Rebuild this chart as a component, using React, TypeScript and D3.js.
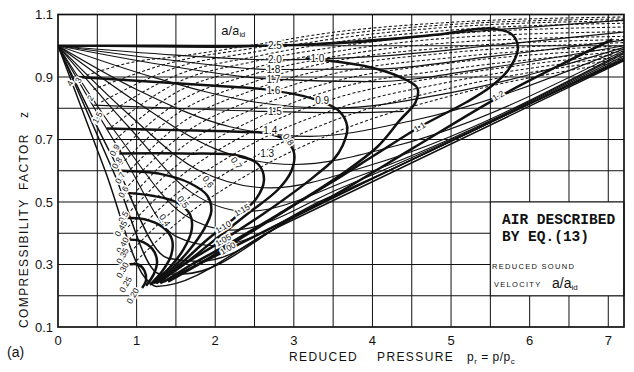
import React from 'react';
import * as d3 from 'd3';

type Pt = [number, number];

// thin solid isotherms, [p_r, z]
const isotherms: Pt[][] = [
  [[0, 1], [2, 0.995], [4, 1.02], [5.5, 1.05], [7.2, 1.082]],
  [[0, 1], [1.5, 0.97], [2.74, 0.955], [4, 0.965], [5.5, 1.0], [7.2, 1.044]],
  [[0, 1], [1.5, 0.952], [2.72, 0.924], [4, 0.925], [5.5, 0.965], [7.2, 1.018]],
  [[0, 1], [1.5, 0.932], [2.72, 0.893], [4, 0.885], [5.5, 0.93], [7.2, 1.0]],
  [[0, 1], [1.2, 0.9], [2.5, 0.82], [3.5, 0.8], [5, 0.85], [7.2, 0.995]],
  [[0, 1], [1, 0.86], [2.2, 0.74], [3.2, 0.71], [4.5, 0.76], [7.2, 0.99]],
  [[0, 1], [1, 0.82], [2, 0.67], [3, 0.62], [4.3, 0.68], [7.2, 0.985]],
  [[0, 1], [0.9, 0.78], [1.8, 0.6], [2.7, 0.545], [4, 0.62], [7.2, 0.98]],
  [[0, 1], [0.9, 0.74], [1.7, 0.53], [2.4, 0.47], [3.8, 0.58], [7.2, 0.975]],
  [[0, 1], [0.8, 0.7], [1.6, 0.46], [2.2, 0.41], [3.6, 0.545], [7.2, 0.968]],
  [[0, 1], [0.8, 0.66], [1.5, 0.39], [2, 0.36], [3.4, 0.51], [7.2, 0.962]],
  [[0, 1], [0.7, 0.64], [1.4, 0.32], [1.8, 0.31], [3.2, 0.48], [7.2, 0.958]],
  [[0, 1], [0.7, 0.6], [1.3, 0.27], [1.6, 0.27], [3, 0.45], [7.2, 0.955]],
  [[0, 1], [0.6, 0.6], [1.1, 0.26], [1.25, 0.23], [2.8, 0.42], [7.2, 0.952]],
];

// dashed family, starting on the left locus
const dashedLines: Pt[][] = [
  [[0.3, 0.9], [1.0, 0.95], [1.5, 0.965], [2.5, 1.003], [3.5, 1.043], [5, 1.075], [7.2, 1.092]],
  [[0.45, 0.86], [1.5, 0.95], [2.5, 0.993], [3.5, 1.033], [5, 1.068], [7.2, 1.086]],
  [[0.55, 0.82], [1.5, 0.93], [2.5, 0.98], [3.5, 1.022], [5, 1.06], [7.2, 1.08]],
  [[0.62, 0.78], [1.5, 0.905], [2.5, 0.965], [3.5, 1.01], [5, 1.05], [7.2, 1.072]],
  [[0.68, 0.74], [1.5, 0.88], [2.5, 0.95], [3.5, 0.995], [5, 1.038], [7.2, 1.06]],
  [[0.73, 0.7], [1.5, 0.85], [2.5, 0.93], [3.5, 0.98], [5, 1.025], [7.2, 1.045]],
  [[0.77, 0.66], [1.5, 0.815], [2.5, 0.91], [3.5, 0.965], [5, 1.01], [7.2, 1.03]],
  [[0.8, 0.62], [1.5, 0.78], [2.5, 0.885], [3.5, 0.95], [5, 0.995], [7.2, 1.02]],
  [[0.83, 0.58], [1.5, 0.74], [2.5, 0.86], [3.5, 0.93], [5, 0.978], [7.2, 1.01]],
  [[0.85, 0.54], [1.5, 0.7], [2.5, 0.83], [3.5, 0.91], [5, 0.962], [7.2, 1.0]],
  [[0.87, 0.5], [1.5, 0.66], [2.5, 0.8], [3.5, 0.885], [5, 0.945], [7.2, 0.99]],
  [[0.88, 0.46], [1.5, 0.615], [2.5, 0.765], [3.5, 0.86], [5, 0.925], [7.2, 0.982]],
  [[0.89, 0.42], [1.5, 0.57], [2.5, 0.73], [3.5, 0.83], [5, 0.905], [7.2, 0.974]],
  [[0.9, 0.38], [1.5, 0.525], [2.5, 0.69], [3.5, 0.795], [5, 0.885], [7.2, 0.966]],
  [[0.92, 0.34], [1.5, 0.48], [2.5, 0.645], [3.5, 0.76], [5, 0.865], [7.2, 0.958]],
  [[0.95, 0.3], [1.5, 0.43], [2.5, 0.6], [3.5, 0.72], [5, 0.84], [7.2, 0.95]],
];

// heavy curves of constant a/a_id
const heavyCurves: Pt[][] = [
  [[0, 1.0], [1.3, 1.0], [2.6, 1.0], [3.7, 1.01], [4.8, 1.035], [5.5, 1.055], [5.78, 1.035], [5.85, 0.99], [5.72, 0.92], [5.5, 0.868], [5.2, 0.82], [4.6, 0.74], [4.06, 0.655], [3.46, 0.56], [2.8, 0.46], [2.2, 0.37], [1.7, 0.3], [1.35, 0.245]],
  [[3.15, 0.96], [3.9, 0.935], [4.35, 0.9], [4.57, 0.865], [4.55, 0.82], [4.35, 0.762], [4.06, 0.676], [3.63, 0.593], [3.0, 0.49], [2.4, 0.395], [1.85, 0.31], [1.4, 0.245]],
  [[0.25, 0.9], [1.2, 0.885], [2.0, 0.872], [2.7, 0.858], [3.3, 0.826], [3.58, 0.79], [3.68, 0.74], [3.62, 0.68], [3.5, 0.634], [3.3, 0.59], [3.1, 0.55], [2.6, 0.46], [2.05, 0.37], [1.6, 0.3], [1.3, 0.245]],
  [[0.62, 0.735], [1.5, 0.73], [2.3, 0.725], [2.65, 0.72], [2.88, 0.7], [3.0, 0.66], [2.97, 0.6], [2.8, 0.54], [2.4, 0.46], [1.95, 0.37], [1.6, 0.3], [1.25, 0.24]],
  [[0.78, 0.655], [1.6, 0.655], [2.3, 0.648], [2.55, 0.62], [2.62, 0.57], [2.52, 0.51], [2.25, 0.45], [1.9, 0.38], [1.55, 0.3], [1.25, 0.24]],
  [[0.8, 0.6], [1.3, 0.59], [1.68, 0.56], [1.9, 0.52], [1.95, 0.47], [1.85, 0.41], [1.65, 0.34], [1.42, 0.28], [1.22, 0.24]],
  [[0.84, 0.53], [1.2, 0.52], [1.5, 0.5], [1.68, 0.46], [1.7, 0.41], [1.6, 0.35], [1.42, 0.29], [1.2, 0.24]],
  [[0.85, 0.45], [1.1, 0.445], [1.33, 0.42], [1.45, 0.38], [1.44, 0.33], [1.33, 0.28], [1.17, 0.235]],
  [[0.86, 0.38], [1.05, 0.375], [1.2, 0.35], [1.26, 0.31], [1.22, 0.27], [1.12, 0.232]],
  [[0.88, 0.3], [1.02, 0.3], [1.1, 0.28], [1.12, 0.25], [1.07, 0.225]],
  [[1.3, 0.24], [2.5, 0.39], [3.5, 0.52], [4.5, 0.67], [5.6, 0.835], [6.4, 0.94], [7.05, 1.02]],
];

// the "1.5" line that runs on past its label
const thinTail: Pt[] = [[0.45, 0.81], [1.5, 0.8], [2.6, 0.79], [3.7, 0.786], [4.4, 0.79]];

const xTicks = [0, 1, 2, 3, 4, 5, 6, 7];
const yTicks = [0.1, 0.3, 0.5, 0.7, 0.9, 1.1];
const xGrid = [0.5, 1, 1.5, 2, 2.5, 3, 3.5, 4, 4.5, 5, 5.5, 6, 6.5, 7];
const yGrid = [0.2, 0.3, 0.4, 0.5, 0.6, 0.7, 0.8, 0.9, 1.0];

// labels in the column at p_r ~ 2.7
const columnLabels: { t: string; p: number; z: number }[] = [
  { t: '2.5', p: 2.76, z: 1.0 },
  { t: '2.0', p: 2.76, z: 0.955 },
  { t: '1.8', p: 2.74, z: 0.924 },
  { t: '1.7', p: 2.74, z: 0.893 },
  { t: '1.6', p: 2.74, z: 0.858 },
  { t: '1.5', p: 2.76, z: 0.79 },
  { t: '1.4', p: 2.7, z: 0.728 },
  { t: '1.3', p: 2.66, z: 0.655 },
  { t: '1.0', p: 3.3, z: 0.96 },
  { t: '0.9', p: 3.36, z: 0.826 },
];
const loopLabels: { t: string; p: number; z: number }[] = [
  { t: '0.8', p: 2.93, z: 0.7 },
  { t: '0.7', p: 2.27, z: 0.625 },
  { t: '0.6', p: 1.91, z: 0.565 },
  { t: '0.5', p: 1.59, z: 0.5 },
  { t: '0.4', p: 1.36, z: 0.442 },
];
const slantLabels: { t: string; p: number; z: number }[] = [
  { t: '1.1', p: 4.6, z: 0.74 },
  { t: '1.2', p: 5.6, z: 0.84 },
  { t: '1.15', p: 2.34, z: 0.474 },
  { t: '1.10', p: 2.1, z: 0.42 },
  { t: '1.05', p: 2.1, z: 0.378 },
  { t: '1.00', p: 2.16, z: 0.352 },
];
const locusLabels: { t: string; p: number; z: number }[] = [
  { t: '4', p: 0.15, z: 0.88 },
  { t: '3', p: 0.26, z: 0.89 },
  { t: '2', p: 0.41, z: 0.833 },
  { t: '1.5', p: 0.5, z: 0.77 },
  { t: '0.9', p: 0.72, z: 0.666 },
  { t: '0.8', p: 0.75, z: 0.625 },
  { t: '0.7', p: 0.79, z: 0.577 },
  { t: '0.6', p: 0.83, z: 0.532 },
  { t: '0.5', p: 0.83, z: 0.452 },
  { t: '0.45', p: 0.8, z: 0.415 },
  { t: '0.40', p: 0.82, z: 0.362 },
  { t: '0.35', p: 0.82, z: 0.328 },
  { t: '0.30', p: 0.82, z: 0.282 },
  { t: '0.25', p: 0.86, z: 0.236 },
  { t: '0.20', p: 0.95, z: 0.2 },
];

const W = 634;
const H = 372;
const x = d3.scaleLinear().domain([0, 7.2]).range([58, 624]);
const y = d3.scaleLinear().domain([0.1, 1.1]).range([327, 14.5]);

const smooth = d3
  .line<Pt>()
  .x((d) => x(d[0]))
  .y((d) => y(d[1]))
  .curve(d3.curveMonotoneX);
const loop = d3
  .line<Pt>()
  .x((d) => x(d[0]))
  .y((d) => y(d[1]))
  .curve(d3.curveCatmullRom.alpha(0.5));

const ink = '#111';
const labelFont = '"Liberation Sans", Arial, sans-serif';

const halo = {
  stroke: '#fff',
  strokeWidth: 3,
  paintOrder: 'stroke' as const,
};

export default function App() {
  const [x0, x1] = x.range();
  const [y0, y1] = y.range();
  const box = { p0: 5.5, p1: 7.2, z0: 0.2, z1: 0.5 };

  return (
    <svg
      width={W}
      height={H}
      viewBox={`0 0 ${W} ${H}`}
      style={{ position: 'fixed', left: 0, top: 0, background: '#fff' }}
    >
      <defs>
        <clipPath id="plot">
          <rect x={x0} y={y1} width={x1 - x0} height={y0 - y1} />
        </clipPath>
      </defs>

      {/* grid */}
      <g stroke={ink} strokeWidth={1}>
        {xGrid.map((v) => (
          <line key={'gx' + v} x1={x(v)} x2={x(v)} y1={y1} y2={y0} />
        ))}
        {yGrid.map((v) => (
          <line key={'gy' + v} x1={x0} x2={x1} y1={y(v)} y2={y(v)} />
        ))}
      </g>

      <g clipPath="url(#plot)" fill="none">
        {dashedLines.map((d, i) => (
          <path key={'d' + i} d={smooth(d) || ''} stroke={ink} strokeWidth={1.05} strokeDasharray="3,2.2" />
        ))}
        {isotherms.map((d, i) => (
          <path key={'i' + i} d={smooth(d) || ''} stroke={ink} strokeWidth={i > 10 ? 1.5 : 1.15} />
        ))}
        <path d={smooth(thinTail) || ''} stroke={ink} strokeWidth={1.15} />
        {heavyCurves.map((d, i) => (
          <path key={'h' + i} d={loop(d) || ''} stroke={ink} strokeWidth={2.5} strokeLinejoin="round" />
        ))}
      </g>

      {/* curve labels */}
      <g fontFamily={labelFont} fill={ink} {...halo}>
        <text x={x(2.23)} y={y(1.035)} fontSize={13} textAnchor="middle">
          a/a<tspan fontSize={7.5} dy={2}>id</tspan>
        </text>
        {columnLabels.map((l) => (
          <text key={'c' + l.t + l.p} x={x(l.p)} y={y(l.z)} dy="0.35em" fontSize={10} textAnchor="middle">
            {l.t}
          </text>
        ))}
        {loopLabels.map((l) => (
          <text
            key={'l' + l.t}
            transform={`translate(${x(l.p)},${y(l.z)}) rotate(55)`}
            dy="0.35em"
            fontSize={9}
            textAnchor="middle"
          >
            {l.t}
          </text>
        ))}
        {slantLabels.map((l) => (
          <text
            key={'s' + l.t}
            transform={`translate(${x(l.p)},${y(l.z)}) rotate(-30)`}
            dy="0.35em"
            fontSize={8.5}
            textAnchor="middle"
          >
            {l.t}
          </text>
        ))}
        {locusLabels.map((l) => (
          <text
            key={'k' + l.t + l.z}
            transform={`translate(${x(l.p)},${y(l.z)}) rotate(-60)`}
            dy="0.35em"
            fontSize={8.5}
            textAnchor="middle"
          >
            {l.t}
          </text>
        ))}
      </g>

      {/* legend panel */}
      <rect
        x={x(box.p0)}
        y={y(box.z1)}
        width={x(box.p1) - x(box.p0)}
        height={y(box.z0) - y(box.z1)}
        fill="#fff"
        stroke={ink}
        strokeWidth={1}
      />
      <g fill={ink}>
        <text x={502} y={224} fontFamily='"Liberation Mono", monospace' fontWeight="bold" fontSize={14.5}>
          AIR DESCRIBED
        </text>
        <text x={502} y={241} fontFamily='"Liberation Mono", monospace' fontWeight="bold" fontSize={14.5}>
          BY EQ.(13)
        </text>
        <text x={492} y={269} fontFamily={labelFont} fontSize={7.5} letterSpacing={1.3}>
          REDUCED SOUND
        </text>
        <text x={494} y={287} fontFamily={labelFont} fontSize={7.5} letterSpacing={1.3}>
          VELOCITY
        </text>
        <text x={552} y={288} fontFamily={labelFont} fontSize={14}>
          a/a<tspan fontSize={8} dy={2}>id</tspan>
        </text>
      </g>

      {/* frame */}
      <rect x={x0} y={y1} width={x1 - x0} height={y0 - y1} fill="none" stroke={ink} strokeWidth={1.7} />

      {/* axes */}
      <g fontFamily={labelFont} fill={ink} fontSize={13}>
        {xTicks.map((v) => (
          <text key={'xt' + v} x={x(v)} y={345} textAnchor="middle">
            {v}
          </text>
        ))}
        {yTicks.map((v) => (
          <text key={'yt' + v} x={53} y={y(v)} dy="0.35em" textAnchor="end">
            {v.toFixed(1)}
          </text>
        ))}
      </g>
      <g fontFamily={labelFont} fill={ink} fontSize={12} letterSpacing={1.4}>
        <text transform="translate(28,328) rotate(-90)">COMPRESSIBILITY</text>
        <text transform="translate(28,190) rotate(-90)">FACTOR</text>
        <text transform="translate(28,118) rotate(-90)" fontSize={12}>z</text>
        <text x={289} y={361}>REDUCED</text>
        <text x={377} y={361}>PRESSURE</text>
        <text x={467} y={361} letterSpacing={0.5}>
          p<tspan fontSize={8} dy={3}>r</tspan>
          <tspan dy={-3}> = p/p</tspan>
          <tspan fontSize={8} dy={3}>c</tspan>
        </text>
      </g>
      <text x={7} y={357} fontFamily={labelFont} fontSize={14} fill={ink}>
        (a)
      </text>
    </svg>
  );
}
